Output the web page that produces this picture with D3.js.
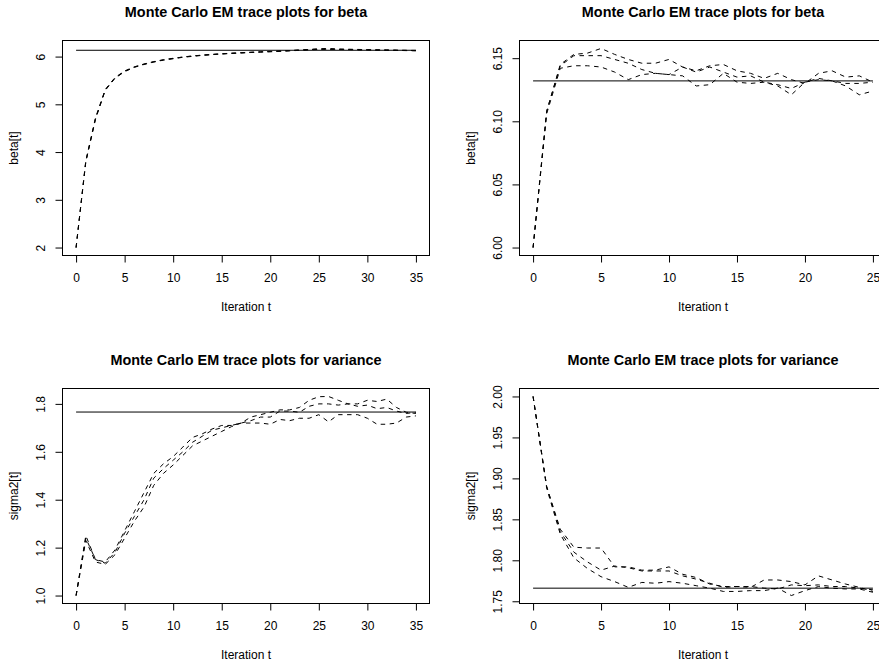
<!DOCTYPE html>
<html>
<head>
<meta charset="utf-8">
<script src="https://cdn.jsdelivr.net/npm/d3@7"></script>
<style>
  body { margin: 0; background: #fff; }
  svg { display: block; }
  text { font-family: "Liberation Sans", Arial, Helvetica, sans-serif; fill: #000; }
</style>
</head>
<body>
<svg id="chart" width="879" height="663"></svg>
<script>
// ---------------- DATA ----------------
// Top-left: beta, start 2.0, iterations 0..35 (three Monte Carlo EM runs)
const betaA1 = [2.00, 3.80, 4.70, 5.30, 5.55, 5.69, 5.78, 5.84, 5.89, 5.93, 5.96, 5.99, 6.01, 6.03, 6.045, 6.06, 6.07, 6.08, 6.09, 6.10, 6.11, 6.115, 6.125, 6.135, 6.15, 6.165, 6.17, 6.16, 6.155, 6.15, 6.145, 6.14, 6.14, 6.135, 6.13, 6.13];
const betaA2 = [2.00, 3.82, 4.72, 5.31, 5.56, 5.70, 5.785, 5.845, 5.895, 5.935, 5.965, 5.99, 6.015, 6.03, 6.045, 6.055, 6.07, 6.08, 6.09, 6.095, 6.105, 6.115, 6.125, 6.14, 6.145, 6.155, 6.15, 6.15, 6.145, 6.145, 6.14, 6.135, 6.135, 6.13, 6.13, 6.125];
const betaA3 = [2.00, 3.79, 4.69, 5.29, 5.545, 5.685, 5.775, 5.835, 5.885, 5.925, 5.955, 5.985, 6.005, 6.025, 6.04, 6.055, 6.065, 6.075, 6.085, 6.095, 6.10, 6.11, 6.12, 6.13, 6.14, 6.15, 6.155, 6.15, 6.15, 6.14, 6.14, 6.14, 6.13, 6.13, 6.125, 6.12];

// Top-right: beta, start 6.0, iterations 0..25
const betaB1 = [6.000, 6.108, 6.145, 6.153, 6.154, 6.1577, 6.153, 6.149, 6.146, 6.146, 6.149, 6.143, 6.140, 6.144, 6.145, 6.140, 6.138, 6.134, 6.138, 6.133, 6.130, 6.138, 6.140, 6.135, 6.136, 6.131];
const betaB2 = [6.000, 6.108, 6.144, 6.152, 6.152, 6.152, 6.149, 6.146, 6.141, 6.138, 6.137, 6.143, 6.139, 6.143, 6.139, 6.135, 6.136, 6.131, 6.129, 6.126, 6.131, 6.134, 6.132, 6.130, 6.130, 6.131];
const betaB3 = [6.000, 6.106, 6.142, 6.144, 6.144, 6.143, 6.139, 6.133, 6.137, 6.138, 6.137, 6.136, 6.128, 6.129, 6.138, 6.131, 6.130, 6.131, 6.128, 6.121, 6.131, 6.133, 6.132, 6.128, 6.121, 6.124];

// Bottom-left: variance, start 1.0, iterations 0..35
const sigA1 = [1.00, 1.25, 1.15, 1.14, 1.19, 1.27, 1.35, 1.43, 1.51, 1.55, 1.58, 1.62, 1.66, 1.675, 1.695, 1.71, 1.71, 1.72, 1.745, 1.755, 1.765, 1.775, 1.775, 1.785, 1.815, 1.83, 1.831, 1.815, 1.80, 1.80, 1.815, 1.81, 1.82, 1.785, 1.765, 1.76];
const sigA2 = [1.00, 1.24, 1.15, 1.135, 1.18, 1.26, 1.33, 1.40, 1.49, 1.53, 1.565, 1.60, 1.64, 1.665, 1.69, 1.70, 1.71, 1.72, 1.73, 1.745, 1.745, 1.77, 1.77, 1.765, 1.79, 1.80, 1.80, 1.795, 1.80, 1.79, 1.795, 1.78, 1.785, 1.77, 1.76, 1.765];
const sigA3 = [1.00, 1.23, 1.14, 1.13, 1.17, 1.24, 1.31, 1.37, 1.46, 1.51, 1.545, 1.585, 1.625, 1.645, 1.665, 1.685, 1.705, 1.72, 1.72, 1.72, 1.715, 1.735, 1.73, 1.74, 1.74, 1.755, 1.725, 1.755, 1.755, 1.755, 1.74, 1.715, 1.715, 1.72, 1.745, 1.75];

// Bottom-right: variance, start 2.0, iterations 0..25
const sigB1 = [2.000, 1.890, 1.838, 1.816, 1.815, 1.815, 1.792, 1.792, 1.788, 1.788, 1.792, 1.783, 1.779, 1.771, 1.768, 1.768, 1.767, 1.776, 1.776, 1.774, 1.770, 1.781, 1.776, 1.771, 1.767, 1.762];
const sigB2 = [2.000, 1.890, 1.835, 1.810, 1.798, 1.788, 1.793, 1.791, 1.787, 1.787, 1.787, 1.781, 1.777, 1.772, 1.767, 1.768, 1.768, 1.766, 1.765, 1.770, 1.769, 1.770, 1.768, 1.768, 1.766, 1.764];
const sigB3 = [2.000, 1.888, 1.832, 1.803, 1.790, 1.780, 1.774, 1.767, 1.773, 1.772, 1.774, 1.772, 1.769, 1.766, 1.762, 1.762, 1.763, 1.763, 1.766, 1.757, 1.763, 1.768, 1.766, 1.765, 1.765, 1.761];

// True (MLE) values drawn as solid reference lines
const betaTrue = 6.132;
const sigmaTrue = 1.766;

// Tick values and labels
const xTicks35 = [0, 5, 10, 15, 20, 25, 30, 35];
const xTicks25 = [0, 5, 10, 15, 20, 25];
const yTicksBetaA = [2, 3, 4, 5, 6];
const yLabelsBetaA = ["2", "3", "4", "5", "6"];
const yTicksBetaB = [6.00, 6.05, 6.10, 6.15];
const yLabelsBetaB = ["6.00", "6.05", "6.10", "6.15"];
const yTicksSigA = [1.0, 1.2, 1.4, 1.6, 1.8];
const yLabelsSigA = ["1.0", "1.2", "1.4", "1.6", "1.8"];
const yTicksSigB = [1.75, 1.80, 1.85, 1.90, 1.95, 2.00];
const yLabelsSigB = ["1.75", "1.80", "1.85", "1.90", "1.95", "2.00"];

const titles = ["Monte Carlo EM trace plots for beta", "Monte Carlo EM trace plots for beta",
                "Monte Carlo EM trace plots for variance", "Monte Carlo EM trace plots for variance"];
const xLabel = "Iteration t";
const yLabels = ["beta[t]", "beta[t]", "sigma2[t]", "sigma2[t]"];

// ---------------- DRAWING ----------------
const svg = d3.select("#chart");
const boxW = 367, boxH = 215;
const boxOrigins = [[62.5, 40.5], [519.5, 40.5], [62.5, 388.5], [519.5, 388.5]];

const panels = [
  { series: [betaA1, betaA2, betaA3], truth: betaTrue, xt: xTicks35, yt: yTicksBetaA, yl: yLabelsBetaA },
  { series: [betaB1, betaB2, betaB3], truth: betaTrue, xt: xTicks25, yt: yTicksBetaB, yl: yLabelsBetaB },
  { series: [sigA1, sigA2, sigA3], truth: sigmaTrue, xt: xTicks35, yt: yTicksSigA, yl: yLabelsSigA },
  { series: [sigB1, sigB2, sigB3], truth: sigmaTrue, xt: xTicks25, yt: yTicksSigB, yl: yLabelsSigB }
];

// R-style 4% axis expansion
function expand(ext) {
  const d = ext[1] - ext[0];
  return [ext[0] - 0.04 * d, ext[1] + 0.04 * d];
}

panels.forEach((p, k) => {
  const [bx, by] = boxOrigins[k];
  const n = p.series[0].length;
  const all = p.series.flat();
  const x = d3.scaleLinear().domain(expand([0, n - 1])).range([bx, bx + boxW]);
  const y = d3.scaleLinear().domain(expand(d3.extent(all))).range([by + boxH, by]);
  const g = svg.append("g");

  // True value line
  const line = d3.line().x((d, i) => x(i)).y(d => y(d));
  g.append("path")
    .datum([p.truth, p.truth])
    .attr("d", d3.line().x((d, i) => x(i * (n - 1))).y(d => y(d)))
    .attr("fill", "none").attr("stroke", "#000").attr("stroke-width", 1);

  // Dashed trace lines
  g.selectAll("path.trace").data(p.series).join("path")
    .attr("class", "trace")
    .attr("d", line)
    .attr("fill", "none")
    .attr("stroke", "#000")
    .attr("stroke-width", 1)
    .attr("stroke-dasharray", "4.5,4.5");

  // Box
  g.append("rect").attr("x", bx).attr("y", by).attr("width", boxW).attr("height", boxH)
    .attr("fill", "none").attr("stroke", "#000").attr("stroke-width", 1);

  // X axis
  const xa = g.append("g").attr("transform", `translate(0,${by + boxH})`)
    .call(d3.axisBottom(x).tickValues(p.xt).tickSize(7).tickSizeOuter(0).tickFormat(d3.format("d")));
  xa.select(".domain").remove();
  xa.selectAll("line").attr("stroke", "#000");
  xa.selectAll("text").attr("y", 22.7).attr("dy", "0.35em")
    .style("font-size", "12px").style("font-family", '"Liberation Sans", Arial, sans-serif').attr("fill", "#000");

  // Y axis
  const ya = g.append("g").attr("transform", `translate(${bx},0)`)
    .call(d3.axisLeft(y).tickValues(p.yt).tickSize(7).tickSizeOuter(0).tickFormat((d, i) => p.yl[i]));
  ya.select(".domain").remove();
  ya.selectAll("line").attr("stroke", "#000");
  ya.selectAll("text")
    .attr("x", null).attr("dy", "0.35em")
    .attr("text-anchor", "middle")
    .attr("transform", "translate(-22,0) rotate(-90)")
    .style("font-size", "12px").style("font-family", '"Liberation Sans", Arial, sans-serif').attr("fill", "#000");

  // Title
  g.append("text").attr("x", bx + boxW / 2).attr("y", by - 29).attr("dy", "0.35em")
    .attr("text-anchor", "middle").style("font-size", "14.4px").style("font-weight", "bold")
    .text(titles[k]);

  // Axis titles
  g.append("text").attr("x", bx + boxW / 2).attr("y", by + boxH + 51).attr("dy", "0.35em")
    .attr("text-anchor", "middle").style("font-size", "12px").text(xLabel);
  g.append("text")
    .attr("transform", `translate(${bx - 49},${by + boxH / 2}) rotate(-90)`)
    .attr("dy", "0.35em").attr("text-anchor", "middle").style("font-size", "12px")
    .text(yLabels[k]);
});
</script>
</body>
</html>
